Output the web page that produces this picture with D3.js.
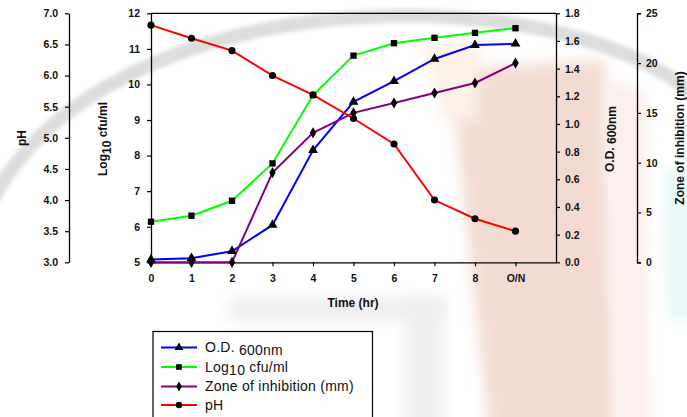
<!DOCTYPE html>
<html>
<head>
<meta charset="utf-8">
<script src="https://cdn.jsdelivr.net/npm/d3@7/dist/d3.min.js"></script>
<style>
  html, body { margin: 0; padding: 0; background: #fff; }
  svg { display: block; }
  text { font-family: "Liberation Sans", Arial, sans-serif; }
</style>
</head>
<body>
<svg id="chart" width="687" height="417"></svg>
<script>
// ---- data ----
const timeLabels = ["0", "1", "2", "3", "4", "5", "6", "7", "8", "O/N"];
const odValues   = [0.02, 0.03, 0.08, 0.27, 0.81, 1.16, 1.31, 1.47, 1.57, 1.58];
const logValues  = [6.14, 6.31, 6.73, 7.78, 9.70, 10.81, 11.16, 11.31, 11.45, 11.58];
const zoneValues = [0, 0, 0, 9.0, 13.0, 15.0, 16.0, 17.0, 18.0, 20.0];
const phValues   = [6.81, 6.60, 6.40, 6.00, 5.69, 5.31, 4.90, 4.00, 3.70, 3.50];
const seriesNames = ["O.D.", "Log", "Zone of inhibition (mm)", "pH"];
const phTicks   = [3.0, 3.5, 4.0, 4.5, 5.0, 5.5, 6.0, 6.5, 7.0];
const logTicks  = [5, 6, 7, 8, 9, 10, 11, 12];
const odTicks   = [0, 0.2, 0.4, 0.6, 0.8, 1.0, 1.2, 1.4, 1.6, 1.8];
const zoneTicks = [0, 5, 10, 15, 20, 25];

const svg = d3.select("#chart");
const pTop = 13.3, pBottom = 262.3, pLeft = 151, pRight = 556;

// ---- faint watermark background ----
const defs = svg.append("defs");
function blurFilter(id, sd) {
  defs.append("filter").attr("id", id)
    .attr("x", "-50%").attr("y", "-50%").attr("width", "200%").attr("height", "200%")
    .append("feGaussianBlur").attr("stdDeviation", sd);
}
blurFilter("blur", 7);
blurFilter("blur2", 2);
const bg = svg.append("g");
bg.append("path")
  .attr("d", "M450,70 L605,60 L618,440 L490,440 Z")
  .attr("fill", "#f3dbd2").attr("filter", "url(#blur)");
bg.append("path")
  .attr("d", "M422,45 L480,45 L478,120 L445,120 Z")
  .attr("fill", "#fbf1e6").attr("filter", "url(#blur)");
bg.append("path")
  .attr("d", "M605,80 L645,90 L650,440 L615,440 Z")
  .attr("fill", "#fbeeec").attr("filter", "url(#blur)");
bg.append("path")
  .attr("d", "M664,170 L700,170 L700,320 L667,320 Z")
  .attr("fill", "#e8f8f8").attr("filter", "url(#blur)");
bg.append("path")
  .attr("d", "M230,298 L445,298 L445,320 L230,320 Z")
  .attr("fill", "#ededed").attr("filter", "url(#blur)");
bg.append("path")
  .attr("d", "M405,300 L443,300 L443,440 L405,440 Z")
  .attr("fill", "#efefef").attr("filter", "url(#blur)");
bg.append("path")
  .attr("d", "M-10,205 C 100,-20 560,-30 700,100")
  .attr("fill", "none").attr("stroke", "#dddddd").attr("stroke-width", 14)
  .attr("filter", "url(#blur2)");

// ---- scales ----
const x = d3.scaleLinear().domain([0, 10]).range([pLeft, pRight]);
const yLog = d3.scaleLinear().domain([5, 12]).range([pBottom, pTop]);
const yPH = d3.scaleLinear().domain([3, 7]).range([pBottom, pTop]);
const yOD = d3.scaleLinear().domain([0, 1.8]).range([pBottom, pTop]);
const yZone = d3.scaleLinear().domain([0, 25]).range([pBottom, pTop]);

function styleAxis(g) {
  g.selectAll("path.domain").attr("stroke", "#000").attr("stroke-width", 1.3);
  g.selectAll(".tick line").attr("stroke", "#000").attr("stroke-width", 1.2);
  g.selectAll(".tick text").attr("font-family", "Liberation Sans, Arial, sans-serif")
    .attr("font-size", 10.5).attr("font-weight", "bold").attr("fill", "#111");
}

svg.append("line").attr("x1", pLeft).attr("x2", pRight).attr("y1", pTop).attr("y2", pTop)
  .attr("stroke", "#000").attr("stroke-width", 1.3);

const gx = svg.append("g").attr("transform", `translate(0,${pBottom})`)
  .call(d3.axisBottom(x).tickValues(d3.range(10)).tickSize(4).tickSizeOuter(0)
    .tickPadding(8).tickFormat(i => timeLabels[i]));
styleAxis(gx);

const gph = svg.append("g").attr("transform", "translate(69,0)")
  .call(d3.axisLeft(yPH).tickValues(phTicks).tickSize(4).tickSizeOuter(0).tickPadding(7)
    .tickFormat(d3.format(".1f")));
styleAxis(gph);

const glog = svg.append("g").attr("transform", `translate(${pLeft},0)`)
  .call(d3.axisLeft(yLog).tickValues(logTicks).tickSize(4).tickSizeOuter(0).tickPadding(7)
    .tickFormat(d3.format("d")));
styleAxis(glog);

const god = svg.append("g").attr("transform", `translate(${pRight},0)`)
  .call(d3.axisRight(yOD).tickValues(odTicks).tickSize(4).tickSizeOuter(0).tickPadding(5)
    .tickFormat(d3.format(".1f")));
styleAxis(god);

const gz = svg.append("g").attr("transform", "translate(637,0)")
  .call(d3.axisRight(yZone).tickValues(zoneTicks).tickSize(4).tickSizeOuter(4).tickPadding(5)
    .tickFormat(d3.format("d")));
styleAxis(gz);

function vtitle(xp, yp) {
  return svg.append("text").attr("transform", `translate(${xp},${yp}) rotate(-90)`)
    .attr("text-anchor", "middle").attr("font-size", 12).attr("font-weight", "bold")
    .attr("fill", "#111");
}
vtitle(26, 138).text("pH");
const lt = vtitle(107, 139);
lt.append("tspan").text("Log");
lt.append("tspan").attr("dy", 4).text("10");
lt.append("tspan").attr("dy", -4).text(" cfu/ml");
const ot = vtitle(614, 139);
ot.append("tspan").text("O.D. ");
ot.append("tspan").attr("dy", 2).text("600nm");
vtitle(684, 138).text("Zone of inhibition (mm)");
svg.append("text").attr("x", 353).attr("y", 307).attr("text-anchor", "middle")
  .attr("font-size", 12).attr("font-weight", "bold").attr("fill", "#111").text("Time (hr)");

// ---- series ----
const series = [
  { values: odValues, y: yOD, color: "#0000ff", sym: d3.symbolTriangle, size: 42 },
  { values: logValues, y: yLog, color: "#00ff00", sym: d3.symbolSquare, size: 40 },
  { values: zoneValues, y: yZone, color: "#800080", sym: d3.symbolDiamond, size: 36 },
  { values: phValues, y: yPH, color: "#ff0000", sym: d3.symbolCircle, size: 40 }
];
series.forEach(s => {
  const line = d3.line().x((d, i) => x(i)).y(d => s.y(d));
  svg.append("path").datum(s.values).attr("d", line)
    .attr("fill", "none").attr("stroke", s.color).attr("stroke-width", 2);
});
series.forEach(s => {
  svg.append("g").selectAll("path").data(s.values).join("path")
    .attr("transform", (d, i) => `translate(${x(i)},${s.y(d)})`)
    .attr("d", d3.symbol().type(s.sym).size(s.size)).attr("fill", "#000");
});

// ---- legend ----
const lg = svg.append("g");
lg.append("rect").attr("x", 153).attr("y", 331.5).attr("width", 219.5).attr("height", 100)
  .attr("fill", "none").attr("stroke", "#000").attr("stroke-width", 1.2);
const rowY = [347.5, 367, 386.5, 405];
series.forEach((s, i) => {
  const g = lg.append("g").attr("transform", `translate(0,${rowY[i]})`);
  g.append("line").attr("x1", 161).attr("x2", 197).attr("stroke", s.color).attr("stroke-width", 2);
  g.append("path").attr("transform", "translate(179,0)")
    .attr("d", d3.symbol().type(s.sym).size(s.size * 0.8)).attr("fill", "#000");
  const t = g.append("text").attr("x", 205).attr("y", 4.5).attr("font-size", 14)
    .attr("letter-spacing", 0.25).attr("fill", "#111");
  if (i === 0) {
    t.append("tspan").text(seriesNames[0] + " ");
    t.append("tspan").attr("dy", 3).text("600nm");
  } else if (i === 1) {
    t.append("tspan").text(seriesNames[1]);
    t.append("tspan").attr("dy", 3).text("10");
    t.append("tspan").attr("dy", -3).text(" cfu/ml");
  } else {
    t.text(seriesNames[i]);
  }
});
</script>
</body>
</html>
